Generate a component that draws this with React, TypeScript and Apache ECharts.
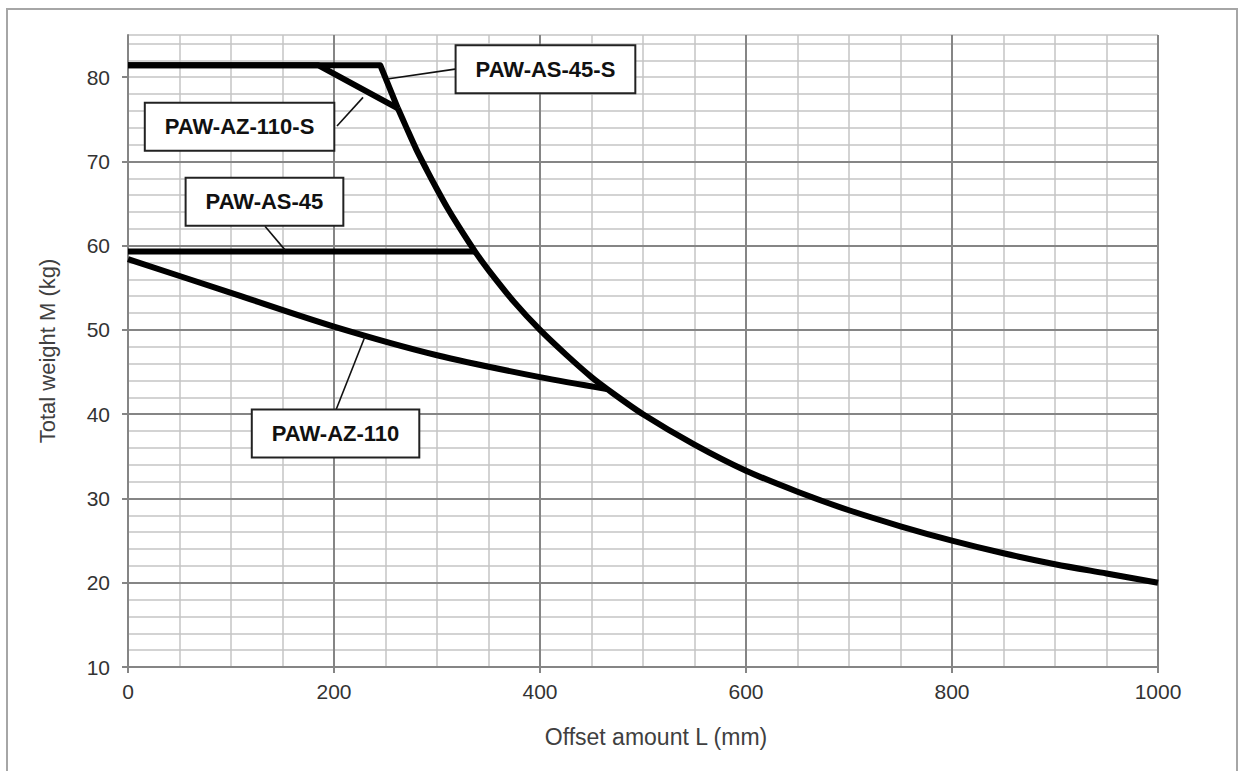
import React, { useEffect, useRef } from "react";
import * as echarts from "echarts";

// Axis ticks
const xMajorTicks = [0, 200, 400, 600, 800, 1000];
const yMajorTicks = [10, 20, 30, 40, 50, 60, 70, 80];

// PAW-AS-45-S: upper flat limit and steep drop to the common curve
const as45sL = [0, 245, 262];
const as45sM = [81.4, 81.4, 76.3];

// Common moment-limit curve shared by all models
const commonL = [262, 270, 280, 290, 300, 310, 320, 337, 350, 375, 400, 425, 450, 465, 500, 550, 600, 650, 700, 750, 800, 850, 900, 950, 1000];
const commonM = [76.3, 74.1, 71.4, 69.0, 66.7, 64.5, 62.5, 59.3, 57.1, 53.3, 50.0, 47.1, 44.4, 43.0, 40.0, 36.4, 33.3, 30.8, 28.6, 26.7, 25.0, 23.5, 22.2, 21.1, 20.0];

// PAW-AZ-110-S
const az110sL = [0, 185, 262];
const az110sM = [81.4, 81.4, 76.3];

// PAW-AS-45
const as45L = [0, 337];
const as45M = [59.3, 59.3];

// PAW-AZ-110 (joins the common curve at ~465)
const az110L = [0, 100, 200, 300, 400, 465];
const az110M = [58.4, 54.4, 50.4, 47.0, 44.4, 43.0];

// Callout labels (box centre, leader start on box edge, pointer tip; data units)
const calloutNames = ["PAW-AS-45-S", "PAW-AZ-110-S", "PAW-AS-45", "PAW-AZ-110"];
const calloutBoxAt = [
  [405.3, 80.95],
  [108.3, 74.1],
  [132.5, 65.2],
  [201.5, 37.7],
];
const calloutFrom = [
  [317.5, 80.95],
  [202.9, 74.2],
  [133.0, 62.3],
  [201.9, 40.5],
];
const calloutTipAt = [
  [253.4, 79.8],
  [228.2, 77.6],
  [152.4, 59.5],
  [230.0, 49.2],
];

const zip = (xs: number[], ys: number[]) => xs.map((x, i) => [x, ys[i]]);

const FONT = "'Liberation Sans', Arial, sans-serif";
const MAJOR = "#858585";
const MINOR = "#c4c4c4";

export default function App() {
  const ref = useRef<HTMLDivElement>(null);

  useEffect(() => {
    if (!ref.current) return;
    const chart = echarts.init(ref.current, undefined, { renderer: "svg" });

    const lineSeries = (name: string, data: number[][], smooth: number | boolean) => ({
      name,
      type: "line",
      data,
      xAxisIndex: 0,
      yAxisIndex: 0,
      showSymbol: false,
      symbol: "none",
      smooth,
      z: 5,
      lineStyle: { color: "#000", width: 6, join: "round", cap: "butt" },
    });

    chart.setOption({
      animation: false,
      backgroundColor: "#ffffff",
      grid: {
        left: 128,
        right: 86,
        top: 35,
        bottom: 104,
        containLabel: false,
        outerBoundsMode: "none",
      },
      xAxis: [
        {
          type: "value",
          min: 0,
          max: 1000,
          interval: 200,
          position: "bottom",
          z: 2,
          axisLine: { show: true, onZero: false, lineStyle: { color: MAJOR, width: 2 } },
          axisTick: { show: true, length: 6, customValues: xMajorTicks, lineStyle: { color: MAJOR, width: 2 } },
          axisLabel: {
            show: true,
            customValues: xMajorTicks,
            formatter: (v: number) => String(v),
            margin: 14,
            fontSize: 21,
            color: "#333333",
            fontFamily: FONT,
          },
          splitLine: { show: true, lineStyle: { color: MAJOR, width: 2 } },
          name: "Offset amount L (mm)",
          nameLocation: "middle",
          nameGap: 58,
          nameTextStyle: {
            fontSize: 23,
            color: "#404040",
            fontFamily: FONT,
            padding: [0, 0, 0, 26],
          },
        },
        {
          type: "value",
          min: 0,
          max: 1000,
          interval: 50,
          position: "bottom",
          z: 1,
          axisLine: { show: false },
          axisTick: { show: false },
          axisLabel: { show: false },
          splitLine: { show: true, lineStyle: { color: MINOR, width: 1.5 } },
        },
      ],
      yAxis: [
        {
          type: "value",
          min: 10,
          max: 85,
          interval: 10,
          position: "left",
          z: 2,
          axisLine: { show: true, onZero: false, lineStyle: { color: MAJOR, width: 2 } },
          axisTick: { show: true, length: 6, customValues: yMajorTicks, lineStyle: { color: MAJOR, width: 2 } },
          axisLabel: {
            show: true,
            customValues: yMajorTicks,
            formatter: (v: number) => String(v),
            margin: 18,
            fontSize: 21,
            color: "#333333",
            fontFamily: FONT,
          },
          splitLine: { show: true, showMaxLine: false, lineStyle: { color: MAJOR, width: 2 } },
          name: "Total weight M (kg)",
          nameLocation: "middle",
          nameGap: 70,
          nameTextStyle: { fontSize: 22, color: "#404040", fontFamily: FONT },
        },
        {
          type: "value",
          min: 10,
          max: 85,
          interval: 2,
          position: "left",
          z: 1,
          axisLine: { show: false },
          axisTick: { show: false },
          axisLabel: { show: false },
          splitLine: { show: true, lineStyle: { color: MINOR, width: 1.5 } },
        },
      ],
      series: [
        lineSeries("PAW-AZ-110", zip(az110L, az110M), 0.3),
        lineSeries("PAW-AS-45", zip(as45L, as45M), false),
        lineSeries("PAW-AZ-110-S", zip(az110sL, az110sM), false),
        lineSeries("PAW-AS-45-S", zip(as45sL, as45sM), false),
        lineSeries("Limit", zip(commonL, commonM), 0.3),
      ],
    });

    const toPx = (p: number[]) => chart.convertToPixel({ gridIndex: 0 }, p) as number[];

    const graphics: any[] = [
      {
        type: "rect",
        id: "frame",
        silent: true,
        z: 0,
        shape: { x: 7, y: 9, width: 1230, height: 790 },
        style: { fill: "none", stroke: "#a6a6a6", lineWidth: 2 },
      },
    ];
    calloutNames.forEach((name, i) => {
      const box = toPx(calloutBoxAt[i]);
      const from = toPx(calloutFrom[i]);
      const tip = toPx(calloutTipAt[i]);
      graphics.push({
        type: "line",
        id: "lead" + i,
        z: 20,
        shape: { x1: from[0], y1: from[1], x2: tip[0], y2: tip[1] },
        style: { stroke: "#111", lineWidth: 1.6 },
      });
      graphics.push({
        type: "text",
        id: "box" + i,
        z: 30,
        x: box[0],
        y: box[1],
        style: {
          text: name,
          align: "center",
          verticalAlign: "middle",
          fontSize: 22,
          lineHeight: 22,
          fontWeight: "bold",
          fontFamily: FONT,
          fill: "#111",
          backgroundColor: "#ffffff",
          borderColor: "#222",
          borderWidth: 2,
          padding: [12, 19],
        },
      });
    });
    chart.setOption({ graphic: graphics });

    return () => chart.dispose();
  }, []);

  return (
    <div
      ref={ref}
      style={{ position: "fixed", left: 0, top: 0, width: 1244, height: 771, background: "#fff" }}
    />
  );
}
